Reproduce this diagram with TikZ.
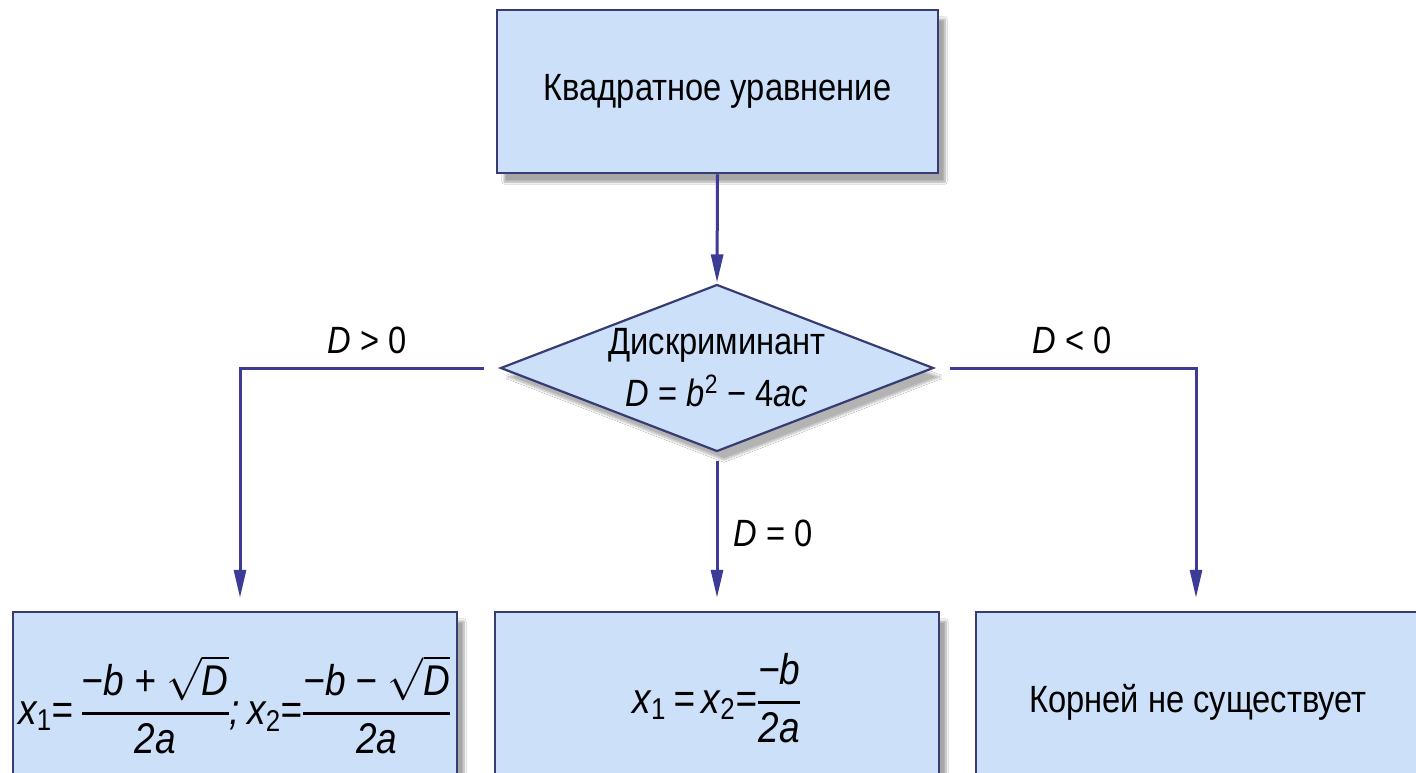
\RequirePackage{fix-cm}
\documentclass[tikz,border=0pt]{standalone}
\usepackage{amsmath}
\usepackage{fontspec}
\setmainfont{Liberation Sans}[FakeStretch=0.86]
\usetikzlibrary{arrows.meta,shapes.geometric,shadows.blur}
\definecolor{boxfill}{RGB}{204,225,249}
\definecolor{boxline}{RGB}{55,60,115}
\definecolor{arrowc}{RGB}{60,60,150}
\newcommand\mi[1]{\text{\itshape #1}}
\newcommand\su[1]{\text{\upshape #1}}
\newcommand\fr[2]{\genfrac{}{}{2.2pt}{0}{#1}{#2}}
\begin{document}
\begin{tikzpicture}[x=1pt,y=-1pt,
  txt/.style={font=\fontsize{38}{56}\selectfont, text=black},
  mathtxt/.style={font=\fontsize{43}{56}\selectfont},
  box/.style={draw=boxline, line width=2.5pt, fill=boxfill, txt,
    blur shadow={shadow xshift=7pt, shadow yshift=-9pt, shadow blur steps=8, shadow opacity=35}},
  decision/.style={diamond, draw=boxline, line width=2.2pt, fill=boxfill, txt,
    aspect=2.6, inner sep=0pt, align=center,
    blur shadow={shadow xshift=7pt, shadow yshift=-9pt, shadow blur steps=8, shadow opacity=30}},
  arr/.style={draw=arrowc, line width=3pt, -{Triangle[length=28pt,width=12pt]}},
  cond/.style={txt}]
\useasboundingbox (0,0) rectangle (1416,773);
\fill[white] (0,0) rectangle (1416,773);
\begin{scope}
\clip (0,0) rectangle (1416,773);
\node[box, minimum width=441pt, minimum height=163pt] (top) at (717.5,91.5) {Квадратное уравнение};
\node[decision, minimum width=433pt, minimum height=167pt] (dia) at (717,368)
  {Дискриминант\\[-4pt]\textit{D} = \textit{b}\textsuperscript{2} − 4\textit{ac}};
\node[box, mathtxt, minimum width=444pt, minimum height=186pt] (left) at (235,705)
  {$\mi{x}_{\su{1}}\mi{=}\,\fr{\mi{−b + }\sqrt{\mi{D}}}{\mi{2a}}\mi{;\,x}_{\su{2}}\mi{=}\fr{\mi{−b − }\sqrt{\mi{D}}}{\mi{2a}}$};
\node[box, mathtxt, minimum width=444pt, minimum height=172pt] (mid) at (717,698)
  {$\mi{x}_{\su{1}}\mi{\,=\,x}_{\su{2}}\mi{=}\fr{\mi{−b}}{\mi{2a}}$};
\node[box, minimum width=444pt, minimum height=180pt] (right) at (1198,702) {Корней не существует};
\end{scope}
\draw[arr, shorten >=1pt] (top.south) -- (dia.north);
\draw[arr, shorten >=13pt] ([xshift=-15pt]dia.west) -| ([xshift=5pt]left.north);
\draw[arr, shorten >=13pt] ([xshift=15pt]dia.east) -| ([xshift=-2pt]right.north);
\draw[arr, shorten <=8pt, shorten >=13pt] (dia.south) -- (mid.north);
\node[cond] (lgt) at (367,340) {\textit{D} > 0};
\node[cond] (llt) at (1072,340) {\textit{D} < 0};
\node[cond] (leq) at (773,533) {\textit{D} = 0};
\end{tikzpicture}
\end{document}
